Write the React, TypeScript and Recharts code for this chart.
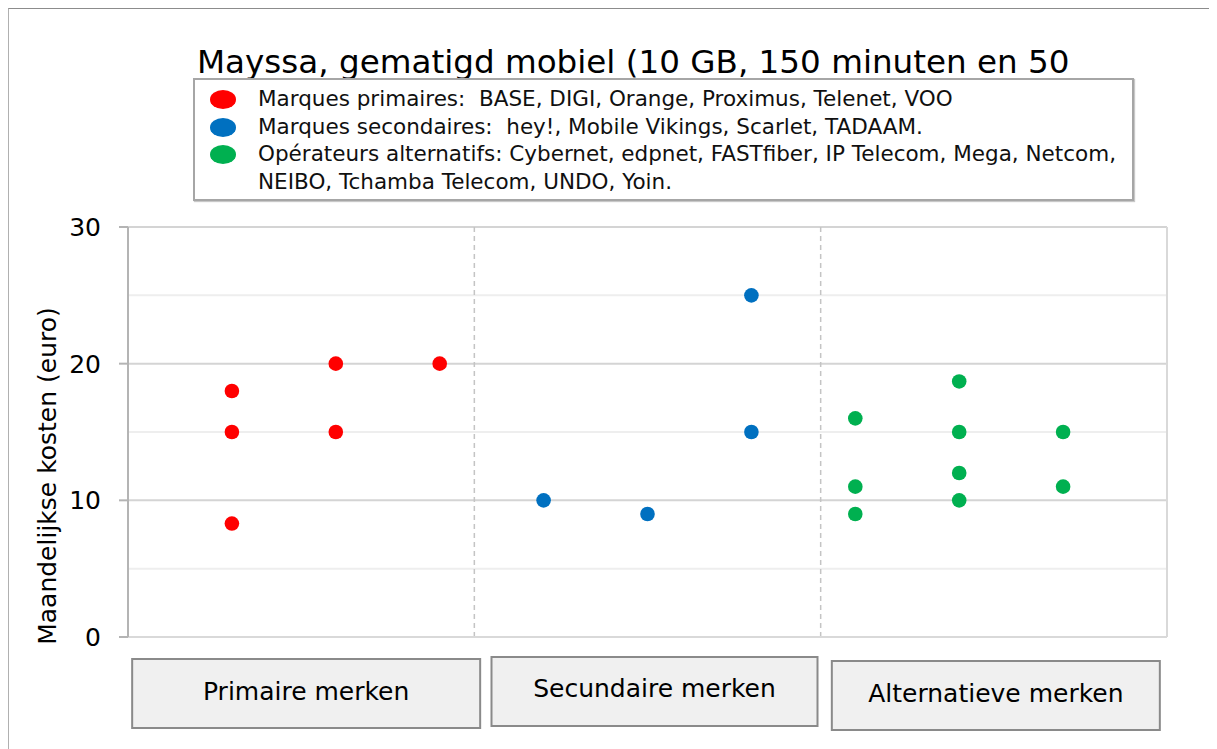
import { ScatterChart, Scatter, XAxis, YAxis, ReferenceLine, Legend, Customized } from 'recharts'

const FONT = '"DejaVu Sans", Verdana, sans-serif'

const TITLE = 'Mayssa, gematigd mobiel (10 GB, 150 minuten en 50'
const Y_LABEL = 'Maandelijkse kosten (euro)'

const categories = ['Primaire merken', 'Secundaire merken', 'Alternatieve merken']
const categoryTicks = [5 / 3, 5, 25 / 3]
const groupBounds = [10 / 3, 20 / 3]

const yTicks = [0, 10, 20, 30]
const majorLines = [10, 20, 30]
const minorLines = [5, 15, 25]

const legendNames = [
  'Marques primaires:  BASE, DIGI, Orange, Proximus, Telenet, VOO',
  'Marques secondaires:  hey!, Mobile Vikings, Scarlet, TADAAM.',
  'Opérateurs alternatifs: Cybernet, edpnet, FASTfiber, IP Telecom, Mega, Netcom, NEIBO, Tchamba Telecom, UNDO, Yoin.',
]

const primaire = [
  { x: 1, y: 18 },
  { x: 1, y: 15 },
  { x: 1, y: 8.3 },
  { x: 2, y: 20 },
  { x: 2, y: 15 },
  { x: 3, y: 20 },
]
const secundaire = [
  { x: 4, y: 10 },
  { x: 5, y: 9 },
  { x: 6, y: 25 },
  { x: 6, y: 15 },
]
const alternatief = [
  { x: 7, y: 16 },
  { x: 7, y: 11 },
  { x: 7, y: 9 },
  { x: 8, y: 18.7 },
  { x: 8, y: 15 },
  { x: 8, y: 12 },
  { x: 8, y: 10 },
  { x: 9, y: 15 },
  { x: 9, y: 11 },
]

const colors = ['#ff0000', '#0070c0', '#00b050']

// small per-box tweaks so the category boxes sit like the original
const boxShapes = [
  { dx: 5, w: 348, top: 22, text: 32 },
  { dx: 7, w: 326, top: 20, text: 31 },
  { dx: 2, w: 328, top: 24, text: 32 },
]

const dot = (color: string) => (props: any) => (
  <circle cx={props.cx} cy={props.cy} r={7.3} fill={color} />
)

function CategoryTick(props: any) {
  const { x, y, index } = props
  const b = boxShapes[index] || boxShapes[0]
  const cx = x + b.dx
  return (
    <g>
      <rect
        x={cx - b.w / 2}
        y={y + b.top}
        width={b.w}
        height={69}
        fill="#f0f0f0"
        stroke="#8a8a8a"
        strokeWidth={2}
      />
      <text
        x={cx}
        y={y + b.top + b.text}
        textAnchor="middle"
        dominantBaseline="central"
        fontFamily={FONT}
        fontSize={25}
        fill="#000"
      >
        {categories[index]}
      </text>
    </g>
  )
}

function TitleText() {
  return (
    <g>
      <text x={188} y={64} fontFamily={FONT} fontSize={32.6} fill="#000">
        {TITLE}
      </text>
      <text
        x={38}
        y={467}
        transform="rotate(-90 38 467)"
        textAnchor="middle"
        dominantBaseline="central"
        fontFamily={FONT}
        fontSize={25}
        fill="#000"
      >
        {Y_LABEL}
      </text>
    </g>
  )
}

function LegendBox(props: any) {
  const items = props.payload || []
  return (
    <div
      style={{
        boxSizing: 'border-box',
        width: 941,
        height: 123,
        border: '2px solid #a6a6a6',
        boxShadow: '1px 1px 1px #c8c8c8',
        background: '#fff',
        padding: '5px 10px 0 0',
        fontFamily: FONT,
        fontSize: 21.5,
        lineHeight: '27.5px',
        color: '#101010',
        whiteSpace: 'pre-wrap',
      }}
    >
      {items.map((it: any, i: number) => (
        <div key={i} style={{ display: 'flex', alignItems: 'flex-start' }}>
          <span
            style={{
              flex: '0 0 auto',
              width: 26,
              height: 19,
              borderRadius: '50%',
              background: it.color,
              marginLeft: 15,
              marginRight: 22,
              marginTop: 5,
            }}
          />
          <span>{it.value}</span>
        </div>
      ))}
    </div>
  )
}

export default function App() {
  return (
    <div
      style={{
        width: 1208,
        height: 740,
        borderTop: '1px solid #8c8c8c',
        borderLeft: '1px solid #b0b0b0',
      }}
    >
      <ScatterChart
        width={1208}
        height={740}
        margin={{ top: 218, right: 50, bottom: 22, left: 59 }}
      >
        <Customized component={TitleText} />
        {minorLines.map((v) => (
          <ReferenceLine key={'mi' + v} y={v} stroke="#eeeeee" strokeWidth={2} />
        ))}
        {majorLines.map((v) => (
          <ReferenceLine key={'ma' + v} y={v} stroke="#d4d4d4" strokeWidth={2} />
        ))}
        {groupBounds.map((v) => (
          <ReferenceLine key={'g' + v} x={v} stroke="#c4c4c4" strokeWidth={1.5} strokeDasharray="5 4" />
        ))}
        <ReferenceLine x={10} stroke="#d9d9d9" strokeWidth={2} />
        <XAxis
          type="number"
          dataKey="x"
          domain={[0, 10]}
          ticks={categoryTicks}
          interval={0}
          height={90}
          axisLine={{ stroke: '#d9d9d9', strokeWidth: 2 }}
          tickLine={false}
          tickSize={0}
          tickMargin={0}
          tick={<CategoryTick />}
        />
        <YAxis
          type="number"
          dataKey="y"
          domain={[0, 30]}
          ticks={yTicks}
          width={60}
          axisLine={{ stroke: '#b4b4b4', strokeWidth: 2 }}
          tickLine={{ stroke: '#b4b4b4', strokeWidth: 2 }}
          tickSize={9}
          tickMargin={18}
          tick={{ fontFamily: FONT, fontSize: 25, fill: '#000' }}
        />
        <Legend
          layout="vertical"
          align="center"
          verticalAlign="middle"
          content={<LegendBox />}
          wrapperStyle={{ position: 'absolute', left: 184, top: 69, width: 941, height: 123 }}
        />
        <Scatter name={legendNames[0]} data={primaire} fill={colors[0]} shape={dot(colors[0])} isAnimationActive={false} />
        <Scatter name={legendNames[1]} data={secundaire} fill={colors[1]} shape={dot(colors[1])} isAnimationActive={false} />
        <Scatter name={legendNames[2]} data={alternatief} fill={colors[2]} shape={dot(colors[2])} isAnimationActive={false} />
      </ScatterChart>
    </div>
  )
}
